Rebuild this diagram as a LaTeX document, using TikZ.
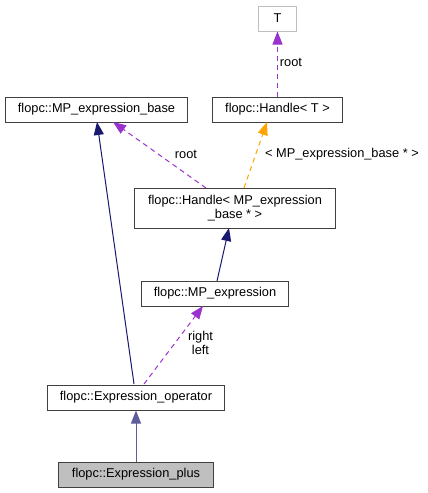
\documentclass[tikz,border=0pt]{standalone}
\usepackage{fontspec}
\setmainfont{Liberation Sans}
\usetikzlibrary{arrows.meta}
\definecolor{navy}{HTML}{191970}
\definecolor{purp}{HTML}{9A32CD}
\definecolor{orng}{HTML}{FFA500}
\definecolor{bord}{HTML}{404040}
\begin{document}
\begin{tikzpicture}[x=1pt,y=-1pt,
  cls/.style={draw=bord,line width=1pt,fill=white,minimum height=25pt,inner sep=0pt,font=\fontsize{12.8}{14}\selectfont,align=center},
  tip/.style={-{Triangle[length=13pt,width=10pt]}},
  inh/.style={draw=navy,line width=1pt,tip},
  use/.style={draw=purp,line width=1pt,dash pattern=on 5pt off 4pt,tip},
  tpl/.style={draw=orng,line width=1pt,dash pattern=on 5pt off 4pt,tip},
  lbl/.style={font=\fontsize{12.8}{14}\selectfont,align=center,inner sep=1pt}]
\useasboundingbox (0,0) rectangle (428,493);
\node[cls,draw=gray!50,minimum width=38pt] (T) at (277.5,18.5) {T};
\node[cls,minimum width=130pt] (HT) at (277.5,109.5) {flopc::Handle< T >};
\node[cls,minimum width=182pt] (MEB) at (96.5,109.5) {flopc::MP\_expression\_base};
\node[cls,minimum width=201pt,minimum height=40pt] (HM) at (235,208.5) {flopc::Handle< MP\_expression\\\_base * >};
\node[cls,minimum width=147pt] (ME) at (215,293.5) {flopc::MP\_expression};
\node[cls,minimum width=177pt] (EO) at (136,397.5) {flopc::Expression\_operator};
\node[cls,fill=gray!50,minimum width=155pt] (EP) at (136,474.5) {flopc::Expression\_plus};
\coordinate (a1) at (206,188); \coordinate (b1) at (113,122);
\coordinate (a2) at (244,188); \coordinate (b2) at (267,122);
\coordinate (a3) at (217,281); \coordinate (b3) at (229,228);
\coordinate (a4) at (134,384); \coordinate (b4) at (97,122);
\coordinate (a5) at (144,384); \coordinate (b5) at (203,306);
\draw[use] (HT.north) -- (T.south);
\node[lbl] (l1) at (291,62) {root};
\draw[use] (a1) -- (b1);
\node[lbl] (l2) at (186,154) {root};
\draw[tpl] (a2) -- (b2);
\node[lbl] (l3) at (342,154) {< MP\_expression\_base * >};
\draw[inh] (a3) -- (b3);
\draw[inh] (a4) -- (b4);
\draw[use] (a5) -- (b5);
\node[lbl] (l4) at (200.5,342.5) {right\\left};
\draw[inh,draw=navy!70] (EP.north) -- (EO.south);
\end{tikzpicture}
\end{document}
